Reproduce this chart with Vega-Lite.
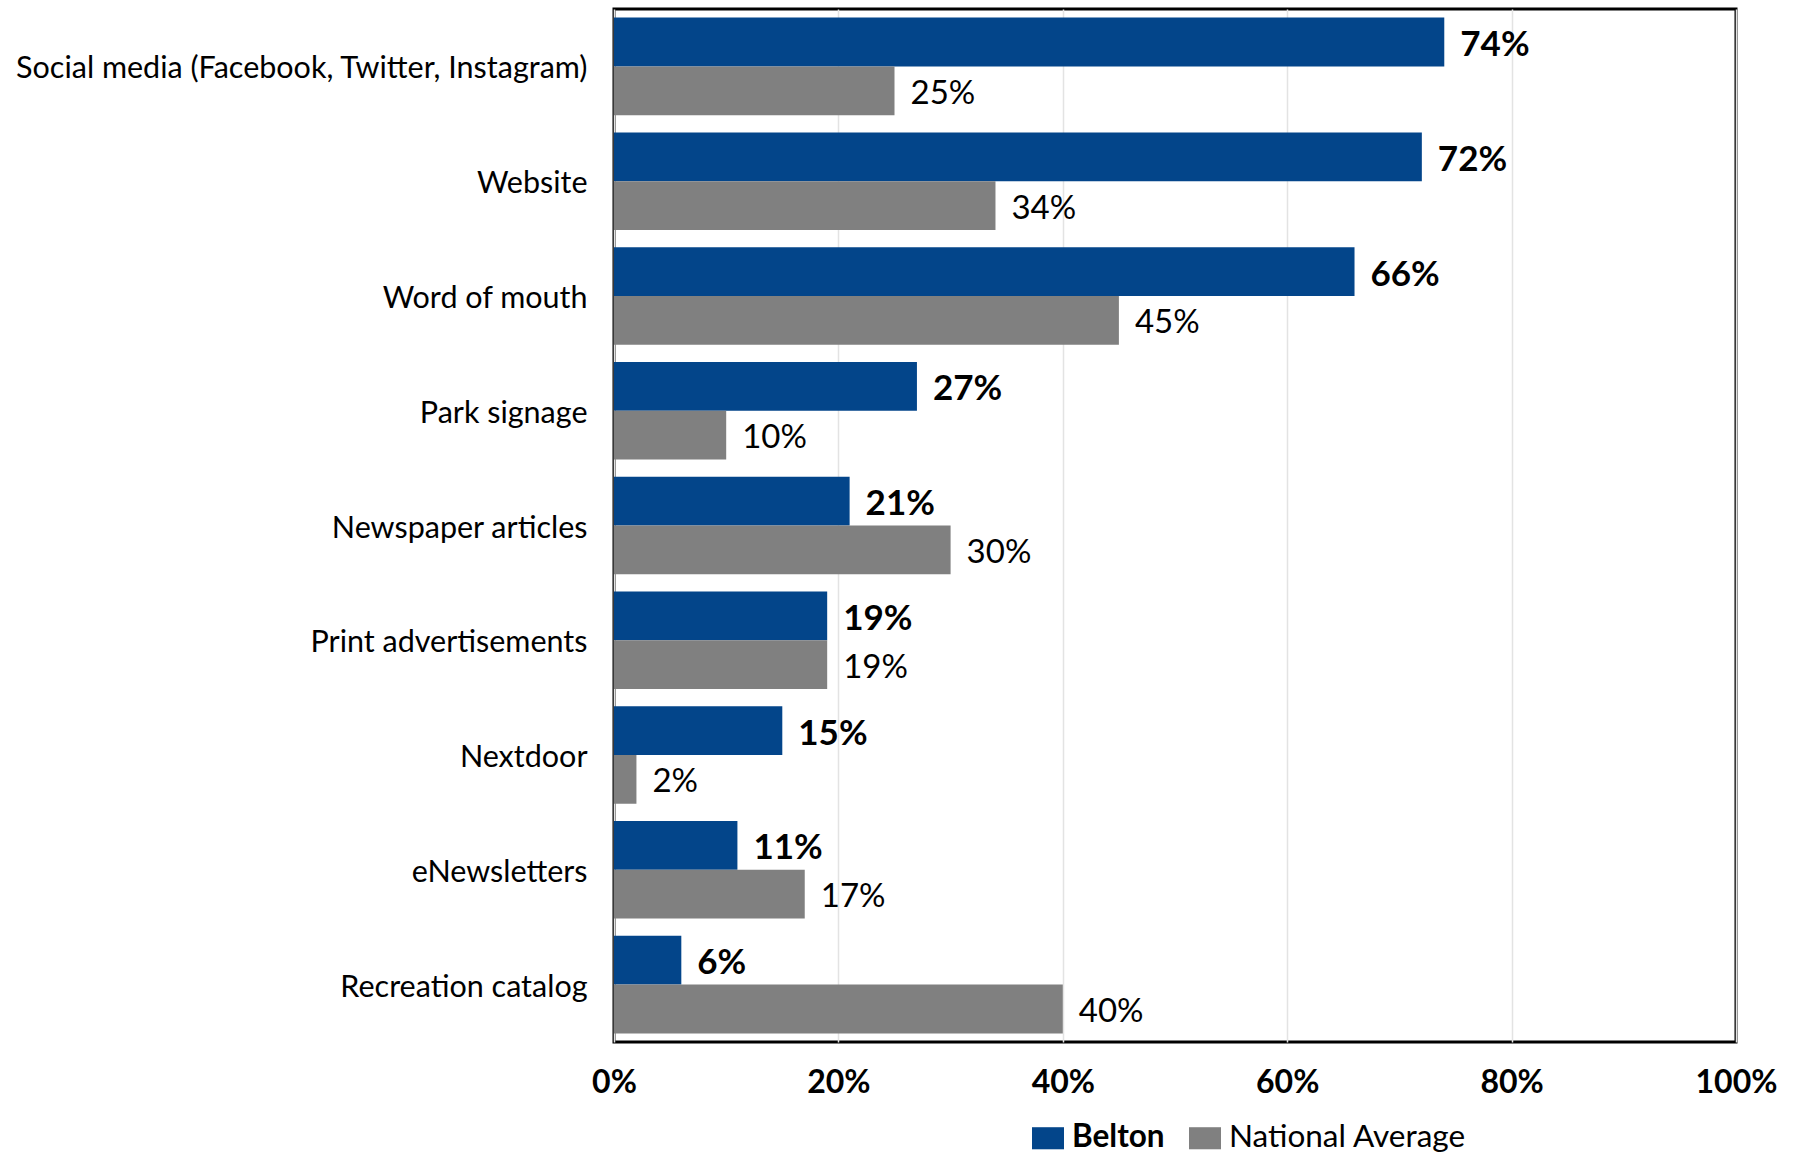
{
  "$schema": "https://vega.github.io/schema/vega-lite/v6.json",
  "width": 1122,
  "height": 1033,
  "padding": {"left": 14, "top": 9, "right": 59, "bottom": 5},
  "autosize": {"type": "pad"},
  "background": "white",
  "config": {
    "view": {"stroke": "black", "strokeWidth": 3},
    "font": "Lato"
  },
  "data": {
    "values": [
      {"channel": "Social media (Facebook, Twitter, Instagram)", "series": "Belton", "value": 0.74},
      {"channel": "Social media (Facebook, Twitter, Instagram)", "series": "National Average", "value": 0.25},
      {"channel": "Website", "series": "Belton", "value": 0.72},
      {"channel": "Website", "series": "National Average", "value": 0.34},
      {"channel": "Word of mouth", "series": "Belton", "value": 0.66},
      {"channel": "Word of mouth", "series": "National Average", "value": 0.45},
      {"channel": "Park signage", "series": "Belton", "value": 0.27},
      {"channel": "Park signage", "series": "National Average", "value": 0.10},
      {"channel": "Newspaper articles", "series": "Belton", "value": 0.21},
      {"channel": "Newspaper articles", "series": "National Average", "value": 0.30},
      {"channel": "Print advertisements", "series": "Belton", "value": 0.19},
      {"channel": "Print advertisements", "series": "National Average", "value": 0.19},
      {"channel": "Nextdoor", "series": "Belton", "value": 0.15},
      {"channel": "Nextdoor", "series": "National Average", "value": 0.02},
      {"channel": "eNewsletters", "series": "Belton", "value": 0.11},
      {"channel": "eNewsletters", "series": "National Average", "value": 0.17},
      {"channel": "Recreation catalog", "series": "Belton", "value": 0.06},
      {"channel": "Recreation catalog", "series": "National Average", "value": 0.40}
    ]
  },
  "encoding": {
    "y": {
      "field": "channel", "type": "nominal", "sort": null,
      "scale": {"paddingInner": 0.15, "paddingOuter": 0.075},
      "axis": {"title": null, "ticks": false, "domain": false, "labelFontSize": 30.5, "labelFont": "Lato", "labelColor": "black", "labelPadding": 27, "labelOffset": 3, "minExtent": 600, "maxExtent": 600, "labelLimit": 0}
    },
    "yOffset": {"field": "series", "type": "nominal", "sort": ["Belton", "National Average"], "scale": {"paddingInner": 0, "paddingOuter": 0}},
    "x": {
      "field": "value", "type": "quantitative",
      "scale": {"domain": [0, 1]},
      "axis": {"title": null, "format": ".0%", "values": [0, 0.2, 0.4, 0.6, 0.8, 1], "grid": true, "gridColor": "#e3e3e3", "gridWidth": 1.5, "ticks": false, "domain": false, "labelFontSize": 32, "labelFontWeight": "bold", "labelColor": "black", "labelPadding": 25, "labelFlush": false}
    }
  },
  "layer": [
    {
      "mark": {"type": "bar"},
      "encoding": {
        "color": {
          "field": "series", "type": "nominal",
          "scale": {"domain": ["Belton", "National Average"], "range": ["#03458A", "#808080"]},
          "legend": {
            "title": null, "orient": "none", "direction": "horizontal",
            "legendX": 418, "legendY": 1113,
            "symbolType": "M-1,-0.69H1V0.69H-1Z", "symbolSize": 1024, "symbolStrokeWidth": 0,
            "symbolOpacity": 1,
            "labelFontSize": 31.5, "labelFont": "Lato", "labelColor": "black", "labelOffset": 8, "labelLimit": 0,
            "columnPadding": 24,
            "encode": {"labels": {"update": {"fontWeight": {"signal": "datum.value === 'Belton' ? 'bold' : 'normal'"}}}}
          }
        }
      }
    },
    {
      "transform": [{"filter": "datum.series === 'Belton'"}],
      "mark": {"type": "text", "align": "left", "baseline": "middle", "dx": 16, "dy": 3, "fontSize": 35, "fontWeight": "bold", "font": "Lato", "color": "black"},
      "encoding": {"text": {"field": "value", "type": "quantitative", "format": ".0%"}}
    },
    {
      "transform": [{"filter": "datum.series === 'National Average'"}],
      "mark": {"type": "text", "align": "left", "baseline": "middle", "dx": 16, "dy": 3, "fontSize": 33, "fontWeight": "normal", "font": "Lato", "color": "black"},
      "encoding": {"text": {"field": "value", "type": "quantitative", "format": ".0%"}}
    }
  ]
}
